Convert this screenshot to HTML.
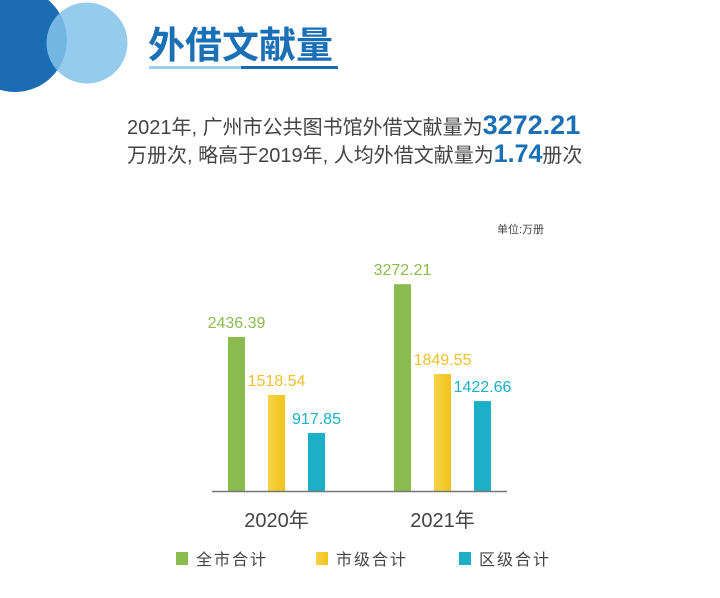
<!DOCTYPE html>
<html><head><meta charset="utf-8">
<style>
html,body{margin:0;width:720px;height:598px;overflow:hidden;}
body{background:#fff;position:relative;font-family:"Liberation Sans","Noto Sans CJK SC",sans-serif;}
.abs{position:absolute;}
.txt{color:#444;font-size:20px;white-space:nowrap;}
.num{color:#1a6fb5;font-weight:bold;font-size:27px;}
</style></head><body>
<svg class="abs" style="left:0;top:0" width="140" height="100">
<circle cx="15" cy="40" r="52" fill="#1b6cb3"/>
<circle cx="87" cy="43" r="40.5" fill="rgba(130,195,235,0.85)"/>
</svg>
<div class="abs" style="left:148px;top:19px;font-size:37px;font-weight:bold;color:#1a6fb5;font-family:'Noto Sans CJK SC',sans-serif;line-height:46px;">外借文献量</div>
<div class="abs" style="left:149px;top:66px;width:92px;height:3px;background:#9cd0ee;"></div>
<div class="abs" style="left:241px;top:66px;width:97px;height:3px;background:#1b6cb3;"></div>
<div class="abs txt" style="left:127px;top:110px;line-height:30px;">2021年, 广州市公共图书馆外借文献量为<span class="num">3272.21</span></div>
<div class="abs txt" style="left:127px;top:139px;line-height:30px;">万册次, 略高于2019年, 人均外借文献量为<span class="num" style="font-size:25px">1.74</span>册次</div>
<div class="abs" style="left:497px;top:221px;font-size:11px;color:#444;">单位:万册</div>
<svg class="abs" style="left:0;top:0" width="720" height="598">
<defs>
<linearGradient id="yg" x1="0" x2="1"><stop offset="0" stop-color="#f7d24a"/><stop offset="1" stop-color="#f0c419"/></linearGradient>
</defs>
<g id="g"></g>
</svg>
<script>
const categories=["2020年","2021年"];
const seriesNames=["全市合计","市级合计","区级合计"];
const cityTotal=[2436.39,3272.21];
const cityLevel=[1518.54,1849.55];
const districtLevel=[917.85,1422.66];
const labels=[["2436.39","1518.54","917.85"],["3272.21","1849.55","1422.66"]];
const colors=["#8bbb4f","url(#yg)","#1bb0c8"];
const textColors=["#8bbb4f","#f0c030","#1bb0c8"];
const ns="http://www.w3.org/2000/svg";
const g=document.getElementById('g');
const baseY=491,scale=154/2436.39;
const y=v=>baseY-v*scale;
const groupX=[228,394],barW=17,step=40;
const series=[cityTotal,cityLevel,districtLevel];
function mk(t,a){const e=document.createElementNS(ns,t);for(const k in a)e.setAttribute(k,a[k]);g.appendChild(e);return e;}
categories.forEach((c,i)=>{
  series.forEach((s,j)=>{
    const x=groupX[i]+j*step;
    const r=mk('rect',{x:x,y:y(s[i]),width:barW,height:baseY-y(s[i]),fill:colors[j]});
    
    
    const t=mk('text',{x:x+barW/2,y:y(s[i])-9,'text-anchor':'middle','font-size':16,fill:textColors[j],'font-family':'Liberation Sans,sans-serif'});
    t.textContent=labels[i][j];
    
    
  });
  const t=mk('text',{x:groupX[i]+step+barW/2,y:527,'text-anchor':'middle','font-size':20,fill:'#444','font-family':'Liberation Sans,Noto Sans CJK SC,sans-serif'});
  t.textContent=c;
  
  
});
const ax=mk('line',{x1:212,x2:507,y1:baseY+0.5,y2:baseY+0.5,stroke:'#777','stroke-width':1.5});


const legX=[176,316,459];
seriesNames.forEach((n,j)=>{
  const r=mk('rect',{x:legX[j],y:552,width:12,height:13,fill:colors[j]});
  
  
  const t=mk('text',{x:legX[j]+20,y:565,'font-size':16,fill:'#444','letter-spacing':2,'font-family':'Noto Sans CJK SC,sans-serif'});
  t.textContent=n;
  
  
});
</script>
</body></html>
